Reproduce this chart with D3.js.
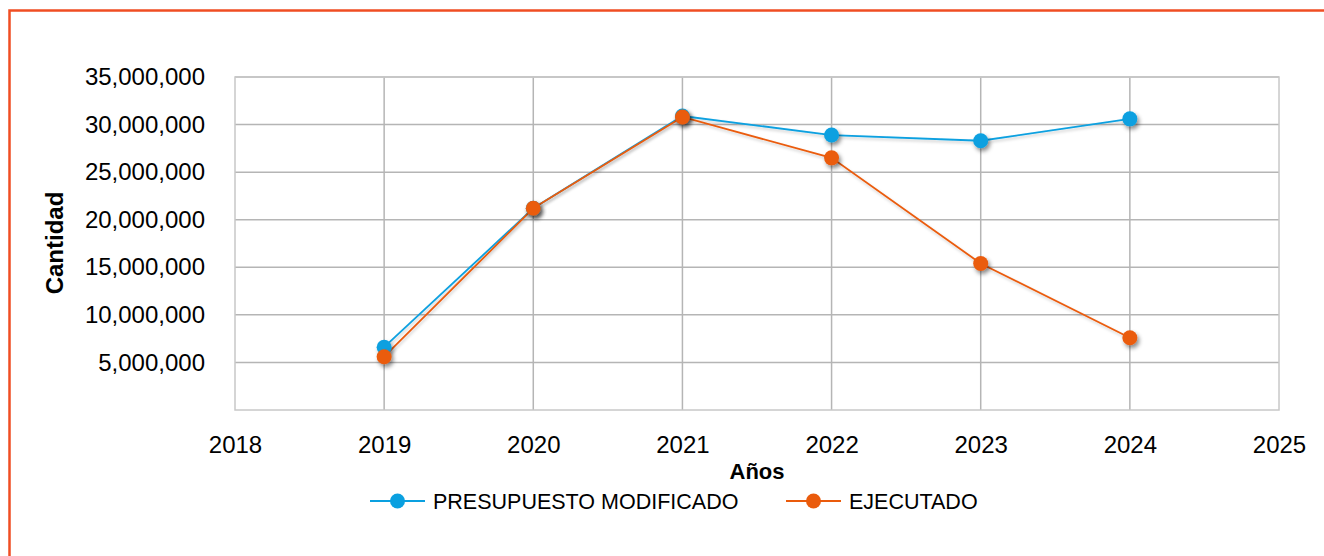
<!DOCTYPE html>
<html>
<head>
<meta charset="utf-8">
<script src="https://cdn.jsdelivr.net/npm/d3@7"></script>
<style>
  body { margin: 0; background: #fff; }
  text { font-family: "Liberation Sans", Arial, sans-serif; fill: #000; }
</style>
</head>
<body>
<div id="chart"></div>
<script>
// data
var years = [2019, 2020, 2021, 2022, 2023, 2024];
var presupuesto = [6600000, 21200000, 30900000, 28900000, 28300000, 30600000];
var ejecutado = [5600000, 21200000, 30800000, 26500000, 15400000, 7600000];
var yTicks = [5000000, 10000000, 15000000, 20000000, 25000000, 30000000, 35000000];
var xTicks = [2018, 2019, 2020, 2021, 2022, 2023, 2024, 2025];

var seriesNames = ["PRESUPUESTO MODIFICADO", "EJECUTADO"];
var seriesColors = ["#0aa0e0", "#ea5b0c"];

var W = 1324, H = 556;
var margin = { top: 77, right: 45, bottom: 146, left: 235 },
  width = W - margin.left - margin.right,
  height = H - margin.top - margin.bottom;

var svg = d3.select("#chart").append("svg")
  .attr("width", W).attr("height", H);

// *****************************************************************************
// shadow filter
// *****************************************************************************
var defs = svg.append("defs");
var f = defs.append("filter").attr("id", "shadow")
  .attr("x", "-50%").attr("y", "-50%").attr("width", "200%").attr("height", "200%");
f.append("feDropShadow").attr("dx", 2).attr("dy", 3).attr("stdDeviation", 2.2)
  .attr("flood-color", "#000").attr("flood-opacity", 0.45);
var fl = defs.append("filter").attr("id", "lshadow")
  .attr("x", "-10%").attr("y", "-10%").attr("width", "120%").attr("height", "120%");
fl.append("feDropShadow").attr("dx", 1).attr("dy", 2).attr("stdDeviation", 1.5)
  .attr("flood-color", "#000").attr("flood-opacity", 0.2);

// outer frame
svg.append("rect")
  .attr("x", 9.5).attr("y", 10.5)
  .attr("width", W + 20).attr("height", H + 20)
  .attr("fill", "none").attr("stroke", "#f04e23").attr("stroke-width", 2.5);

var g = svg.append("g")
  .attr("transform", "translate(" + margin.left + "," + margin.top + ")");

var x = d3.scaleLinear().domain([2018, 2025]).range([0, width]);
var y = d3.scaleLinear().domain([0, 35000000]).range([height, 0]);

// *****************************************************************************
// grid
// *****************************************************************************
g.selectAll(".hgrid").data(yTicks).enter().append("line")
  .attr("x1", 0).attr("x2", width)
  .attr("y1", function (d) { return y(d); })
  .attr("y2", function (d) { return y(d); })
  .attr("stroke", "#b5b5b5").attr("stroke-width", 1.5);

g.selectAll(".vgrid").data(xTicks.slice(1, -1)).enter().append("line")
  .attr("y1", 0).attr("y2", height)
  .attr("x1", function (d) { return x(d); })
  .attr("x2", function (d) { return x(d); })
  .attr("stroke", "#b5b5b5").attr("stroke-width", 1.5);

g.append("rect")
  .attr("width", width).attr("height", height)
  .attr("fill", "none").attr("stroke", "#c8c8c8").attr("stroke-width", 1.5);

// *****************************************************************************
// axes
// *****************************************************************************
var yAxis = g.append("g")
  .call(d3.axisLeft(y).tickValues(yTicks).tickSize(0).tickPadding(30)
    .tickFormat(d3.format(",")));
yAxis.select(".domain").remove();
yAxis.selectAll("text").style("font-size", "24px")
  .style("font-family", "Liberation Sans, Arial, sans-serif");

var xAxis = g.append("g")
  .attr("transform", "translate(0," + height + ")")
  .call(d3.axisBottom(x).tickValues(xTicks).tickSize(0).tickPadding(26)
    .tickFormat(d3.format("d")));
xAxis.select(".domain").remove();
xAxis.selectAll("text").style("font-size", "24px")
  .style("font-family", "Liberation Sans, Arial, sans-serif");

// axis titles
svg.append("text")
  .attr("x", margin.left + width / 2).attr("y", 479)
  .attr("text-anchor", "middle")
  .style("font-size", "22px").style("font-weight", "bold")
  .text("Años");

svg.append("text")
  .attr("transform", "translate(63," + 243 + ") rotate(-90)")
  .attr("text-anchor", "middle")
  .style("font-size", "24px").style("font-weight", "bold")
  .text("Cantidad");

// *****************************************************************************
// lines + points
// *****************************************************************************
var allSeries = [presupuesto, ejecutado];
var line = d3.line()
  .x(function (d, i) { return x(years[i]); })
  .y(function (d) { return y(d); });

allSeries.forEach(function (s, k) {
  g.append("path")
    .datum(s)
    .attr("fill", "none")
    .attr("stroke", seriesColors[k])
    .attr("stroke-width", 1.8)
    .attr("filter", "url(#lshadow)")
    .attr("d", line);
});

allSeries.forEach(function (s, k) {
  g.selectAll(".pt" + k).data(s).enter().append("circle")
    .attr("cx", function (d, i) { return x(years[i]); })
    .attr("cy", function (d) { return y(d); })
    .attr("r", 7.5)
    .attr("fill", seriesColors[k])
    .attr("filter", "url(#shadow)");
});

// *****************************************************************************
// legend
// *****************************************************************************
var legendX = [370, 786];
var legend = svg.selectAll(".leg").data(seriesNames).enter().append("g")
  .attr("transform", function (d, i) { return "translate(" + legendX[i] + ",501)"; });
legend.append("line")
  .attr("x1", 0).attr("x2", 55).attr("y1", 0).attr("y2", 0)
  .attr("stroke", function (d, i) { return seriesColors[i]; })
  .attr("stroke-width", 1.8);
legend.append("circle")
  .attr("cx", 27.5).attr("cy", 0).attr("r", 7.5)
  .attr("fill", function (d, i) { return seriesColors[i]; });
legend.append("text")
  .attr("x", 63).attr("y", 8)
  .style("font-size", "21.5px")
  .text(function (d) { return d; });
</script>
</body>
</html>
